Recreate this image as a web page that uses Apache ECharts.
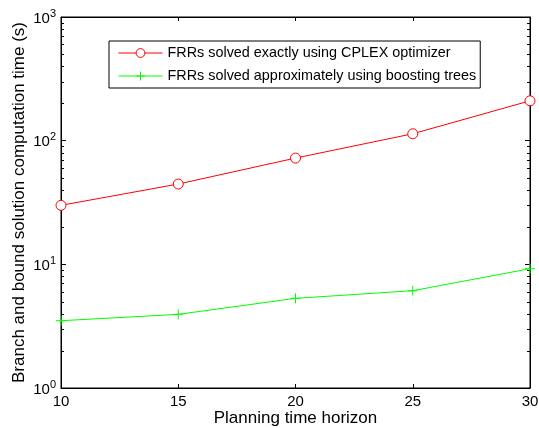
<!DOCTYPE html>
<html>
<head>
<meta charset="utf-8">
<script src="https://cdn.jsdelivr.net/npm/echarts@6/dist/echarts.min.js"></script>
<style>html,body{margin:0;padding:0;background:#fff;}#c{width:539px;height:428px;}</style>
</head>
<body>
<div id="c"></div>
<script>
var horizons = [10, 15, 20, 25, 30];
var exactTimes = [30.0, 44.6, 72.3, 113.7, 210];
var approxTimes = [3.50, 3.94, 5.31, 6.12, 9.22];
var seriesNames = ['FRRs solved exactly using CPLEX optimizer', 'FRRs solved approximately using boosting trees'];
var xTicks = [10, 15, 20, 25, 30];
var yTickExps = [0, 1, 2, 3];

var FONT = 'Liberation Sans, Arial, Helvetica, sans-serif';
var chart = echarts.init(document.getElementById('c'), null, {renderer: 'canvas'});

function pairs(xs, ys) { return xs.map(function (x, i) { return [x, ys[i]]; }); }

var plusPath = 'path://M0,5L10,5M5,0L5,10';

var option = {
  animation: false,
  backgroundColor: '#fff',
  textStyle: {fontFamily: FONT},
  grid: {left: 61, right: 9, top: 17, bottom: 40, outerBoundsMode: 'none', containLabel: false,
    show: true, borderColor: '#000', borderWidth: 1, backgroundColor: 'transparent'},
  legend: {
    orient: 'vertical', left: 109, top: 41,
    padding: [5, 4, 5, 9], itemGap: 9, itemWidth: 44, itemHeight: 11,
    backgroundColor: '#fff', borderColor: '#000', borderWidth: 1,
    lineStyle: {width: 1},
    itemStyle: {borderWidth: 1},
    textStyle: {fontSize: 14.4, color: '#000', fontFamily: FONT},
    data: seriesNames
  },
  xAxis: [{
    type: 'value', min: 10, max: 30, interval: 5,
    name: 'Planning time horizon', nameLocation: 'middle', nameGap: 22, nameMoveOverlap: false,
    nameTextStyle: {fontSize: 17, color: '#000', fontFamily: FONT},
    axisLine: {show: true, lineStyle: {color: '#000', width: 1}},
    axisTick: {show: true, inside: true, length: 4, lineStyle: {color: '#000'}},
    axisLabel: {fontSize: 15, color: '#000', margin: 6, fontFamily: FONT,
      formatter: function (v) { return xTicks.indexOf(v) >= 0 ? String(v) : ''; }},
    splitLine: {show: false}
  }, {
    type: 'value', min: 10, max: 30, interval: 5, position: 'top',
    axisLine: {show: true, lineStyle: {color: '#000', width: 1}},
    axisTick: {show: true, inside: true, length: 4, lineStyle: {color: '#000'}},
    axisLabel: {show: false}, splitLine: {show: false}
  }],
  yAxis: [{
    type: 'log', logBase: 10, min: 1, max: 1000,
    name: 'Branch and bound solution computation time (s)', nameLocation: 'middle', nameGap: 33, nameMoveOverlap: false,
    nameTextStyle: {fontSize: 17, color: '#000', fontFamily: FONT},
    axisLine: {show: true, lineStyle: {color: '#000', width: 1}},
    axisTick: {show: true, inside: true, length: 5, lineStyle: {color: '#000'}},
    axisLabel: {
      margin: 5, color: '#000', fontFamily: FONT,
      formatter: function (v) {
        var e = Math.round(Math.log10(v));
        return yTickExps.indexOf(e) >= 0 ? '{b|10}{s|' + e + '}' : '';
      },
      rich: {
        b: {fontSize: 15, color: '#000', fontFamily: FONT, lineHeight: 18, verticalAlign: 'bottom'},
        s: {fontSize: 11, color: '#000', fontFamily: FONT, lineHeight: 18, verticalAlign: 'top'}
      }
    },
    splitLine: {show: false}
  }, {
    type: 'log', logBase: 10, min: 1, max: 1000, position: 'right',
    axisLine: {show: true, lineStyle: {color: '#000', width: 1}},
    axisTick: {show: true, inside: true, length: 5, lineStyle: {color: '#000'}},
    axisLabel: {show: false}, splitLine: {show: false}
  }],
  series: [{
    name: seriesNames[0], type: 'line', xAxisIndex: 0, yAxisIndex: 0,
    data: pairs(horizons, exactTimes),
    symbol: 'circle', symbolSize: 10,
    lineStyle: {color: '#ff0000', width: 1},
    itemStyle: {color: '#ffffff', borderColor: '#ff0000', borderWidth: 1},
    z: 3
  }, {
    name: seriesNames[1], type: 'line', xAxisIndex: 0, yAxisIndex: 0,
    data: pairs(horizons, approxTimes),
    symbol: plusPath, symbolSize: 10,
    lineStyle: {color: '#00ff00', width: 1},
    itemStyle: {color: '#00ff00', borderColor: '#00ff00', borderWidth: 1},
    z: 3
  }]
};
chart.setOption(option);

// minor ticks at 2..9 within each decade (left and right axes)
var minorValues = [];
[1, 10, 100].forEach(function (d) { for (var k = 2; k <= 9; k++) minorValues.push(d * k); });
var xl = chart.convertToPixel({xAxisIndex: 0}, 10);
var xr = chart.convertToPixel({xAxisIndex: 0}, 30);
var els = [];
minorValues.forEach(function (v) {
  var y = Math.round(chart.convertToPixel({yAxisIndex: 0}, v)) + 0.5;
  els.push({type: 'line', shape: {x1: xl, y1: y, x2: xl + 3, y2: y}, style: {stroke: '#000', lineWidth: 1}, silent: true});
  els.push({type: 'line', shape: {x1: xr - 3, y1: y, x2: xr, y2: y}, style: {stroke: '#000', lineWidth: 1}, silent: true});
});
chart.setOption({graphic: els});
</script>
</body>
</html>
